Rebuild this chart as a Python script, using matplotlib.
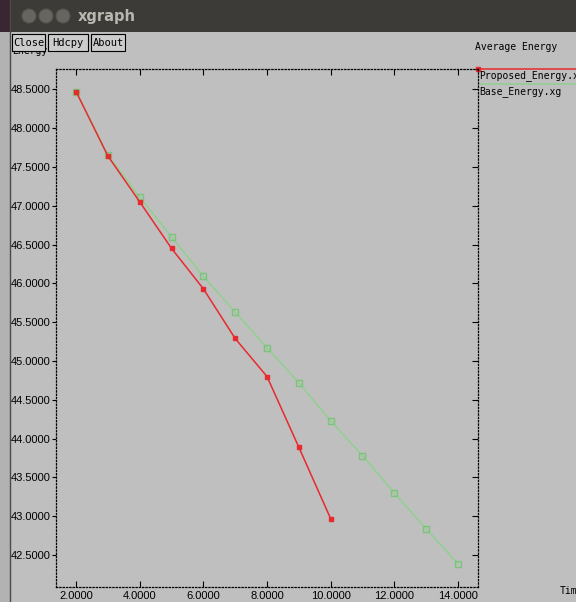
import numpy as np
import matplotlib
matplotlib.use('Agg')
import matplotlib.pyplot as plt
from matplotlib.patches import Rectangle, Circle
from matplotlib.ticker import FormatStrFormatter, MultipleLocator

# energy readings per time step
time_proposed = [2, 3, 4, 5, 6, 7, 8, 9, 10]
energy_proposed = [48.47, 47.64, 47.05, 46.45, 45.93, 45.29, 44.80, 43.89, 42.97]

time_base = [2, 3, 4, 5, 6, 7, 8, 9, 10, 11, 12, 13, 14]
energy_base = [48.47, 47.65, 47.11, 46.60, 46.09, 45.63, 45.17, 44.72, 44.23,
               43.78, 43.30, 42.84, 42.39]

series_names = ['Proposed_Energy.xg', 'Base_Energy.xg']
plot_title = 'Average Energy'
x_name = 'Time'
y_name = 'Energy'

W, H = 576, 602
bg = '#bfbfbf'
red = '#e82a2e'
green = '#8fd18f'

fig = plt.figure(figsize=(W / 100, H / 100), dpi=100, facecolor=bg)

# window chrome drawn in pixel units on a full-figure axes
chrome = fig.add_axes([0, 0, 1, 1], zorder=0)
chrome.set_xlim(0, W)
chrome.set_ylim(H, 0)
chrome.axis('off')

chrome.add_patch(Rectangle((0, 0), 10, H, facecolor='#b2b2b2', edgecolor='none'))
chrome.plot([10, 10], [0, H], color='#4a4a4a', lw=1)
chrome.add_patch(Rectangle((0, 0), 10, 32, facecolor='#3a2630', edgecolor='none'))
chrome.add_patch(Rectangle((10, 0), W - 10, 32, facecolor='#3c3b37', edgecolor='none'))
for cx in (29, 46, 63):
    chrome.add_patch(Circle((cx, 16), 7, facecolor='#66655f', edgecolor='#55544f', lw=0.8))
chrome.text(78, 16, 'xgraph', color='#b8b7b0', fontsize=10.5, fontweight='bold',
            family='DejaVu Sans', va='center', ha='left')

mono = 'DejaVu Sans Mono'
# axis name sits partly under the button row
chrome.text(12, 51, y_name, fontsize=7, family=mono, va='center', ha='left', zorder=1)
for x0, w, label in [(12, 33, 'Close'), (48, 40, 'Hdcpy'), (91, 34, 'About')]:
    chrome.add_patch(Rectangle((x0, 34), w, 17, facecolor='#cccccc', edgecolor='black',
                               lw=0.8, zorder=3))
    chrome.text(x0 + w / 2, 43, label, fontsize=7.5, family=mono, va='center',
                ha='center', zorder=4)

chrome.text(475, 47, plot_title, fontsize=7, family=mono, va='center', ha='left')
chrome.text(560, 591, x_name, fontsize=7, family=mono, va='center', ha='left')

# legend entries to the right of the plot frame
chrome.plot([478, W], [69, 69], color=red, lw=1.1)
chrome.plot([478], [69], marker='s', ms=2.5, color=red)
chrome.text(479, 76, series_names[0], fontsize=7, family=mono, va='center', ha='left')
chrome.plot([480, W], [84, 84], color=green, lw=1.1)
chrome.text(479, 92, series_names[1], fontsize=7, family=mono, va='center', ha='left')

# data plot
ax = fig.add_axes([56 / W, 1 - 587 / H, (478 - 56) / W, (587 - 69) / H], zorder=1)
ax.set_facecolor('none')
ax.plot(time_base, energy_base, color=green, lw=1.1, marker='s', ms=5,
        mfc='none', mec='#7cc47c', mew=1)
ax.plot(time_proposed, energy_proposed, color=red, lw=1.1, marker='s', ms=2.5,
        mfc=red, mec=red)

ax.set_xlim(1.37, 14.63)
ax.set_ylim(42.09, 48.76)
ax.xaxis.set_major_locator(MultipleLocator(2))
ax.yaxis.set_major_locator(MultipleLocator(0.5))
ax.xaxis.set_major_formatter(FormatStrFormatter('%.4f'))
ax.yaxis.set_major_formatter(FormatStrFormatter('%.4f'))

for s in ax.spines.values():
    s.set_linestyle(':')
    s.set_linewidth(0.9)
    s.set_color('black')

ax.tick_params(axis='x', direction='in', length=4, width=0.8, top=True, pad=3,
               labelsize=8)
ax.tick_params(axis='y', which='both', left=True, right=True, width=0.8,
               labelsize=8, pad=1)
ax.tick_params(axis='y', direction='out', length=3)
for t in ax.yaxis.get_major_ticks():
    t.tick2line.set_marker(matplotlib.markers.TICKLEFT)
    t.tick2line.set_markersize(4)
for lab in ax.get_xticklabels() + ax.get_yticklabels():
    lab.set_family('Liberation Sans')

fig.savefig('out.png', dpi=100, facecolor=bg)
